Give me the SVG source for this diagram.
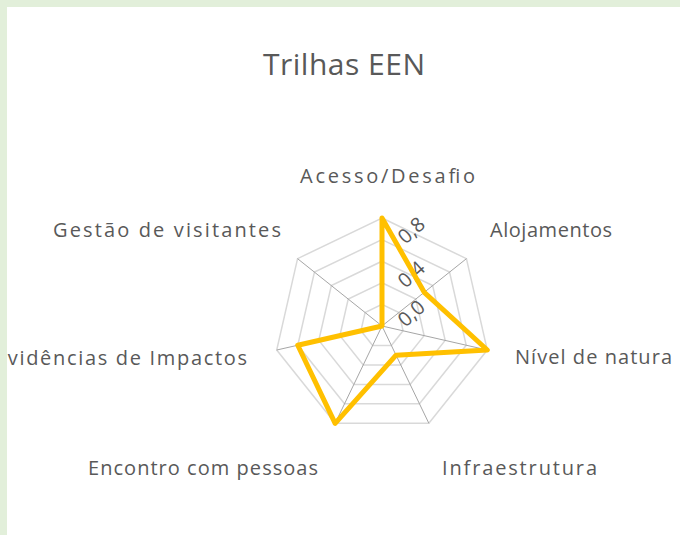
<svg xmlns="http://www.w3.org/2000/svg" width="680" height="535" viewBox="0 0 680 535">
  <style>
    .ring { fill: none; stroke: #d9d9d9; stroke-width: 1.5; }
    .spoke { stroke: #a6a6a6; stroke-width: 1; }
    .lbl { font-family: "Open Sans", "Liberation Sans", sans-serif; font-size: 20px; fill: #595959; }
    .tick { font-family: "Open Sans", "Liberation Sans", sans-serif; font-size: 20px; fill: #595959; }
    .title { font-family: "Open Sans", "Liberation Sans", sans-serif; font-size: 30px; fill: #595959; }
    .series { fill: none; stroke: #ffc000; stroke-width: 5; stroke-linejoin: round; }
  </style>
  <defs>
    <clipPath id="panel"><rect x="7" y="7" width="673" height="528"/></clipPath>
  </defs>
  <rect x="0" y="0" width="680" height="535" fill="#e2efda"/>
  <rect x="7" y="7" width="673" height="528" fill="#ffffff"/>

  <g id="title">
    <text class="title" x="344" y="75" text-anchor="middle" textLength="162" lengthAdjust="spacing">Trilhas EEN</text>
  </g>

  <g id="grid">
    <polygon class="ring" points="382,304.4 398.89,312.53 403.06,330.81 391.37,345.46 372.63,345.46 360.94,330.81 365.06,312.53"/>
    <polygon class="ring" points="382,282.8 415.78,299.07 424.12,335.61 400.74,364.92 363.26,364.92 339.88,335.61 348.22,299.07"/>
    <polygon class="ring" points="382,261.2 432.66,285.6 445.18,340.42 410.12,384.38 353.88,384.38 318.82,340.42 331.34,285.6"/>
    <polygon class="ring" points="382,239.6 449.55,272.13 466.23,345.23 419.49,403.84 344.51,403.84 297.77,345.23 314.45,272.13"/>
    <polygon class="ring" points="382,218 466.44,258.66 487.29,350.03 428.86,423.3 335.14,423.3 276.71,350.03 297.56,258.66"/>
    <line class="spoke" x1="382" y1="326" x2="382" y2="218"/>
    <line class="spoke" x1="382" y1="326" x2="466.44" y2="258.66"/>
    <line class="spoke" x1="382" y1="326" x2="487.29" y2="350.03"/>
    <line class="spoke" x1="382" y1="326" x2="428.86" y2="423.3"/>
    <line class="spoke" x1="382" y1="326" x2="335.14" y2="423.3"/>
    <line class="spoke" x1="382" y1="326" x2="276.71" y2="350.03"/>
    <line class="spoke" x1="382" y1="326" x2="297.56" y2="258.66"/>
  </g>

  <g id="ticks">
    <text class="tick" x="411" y="313" text-anchor="middle" dominant-baseline="central" transform="rotate(-42 411 313)">0,0</text>
    <text class="tick" x="411" y="274" text-anchor="middle" dominant-baseline="central" transform="rotate(-42 411 274)">0,4</text>
    <text class="tick" x="411" y="230" text-anchor="middle" dominant-baseline="central" transform="rotate(-42 411 230)">0,8</text>
  </g>

  <g id="series">
    <polygon class="series" points="382,218 424.22,292.33 487.29,350.03 396.06,355.19 335.14,423.3 297.77,345.23 382,326"/>
  </g>

  <g id="categories" clip-path="url(#panel)">
    <text class="lbl" x="300" y="183" textLength="175" lengthAdjust="spacing">Acesso/Desafio</text>
    <text class="lbl" x="490" y="236.5" textLength="122" lengthAdjust="spacing">Alojamentos</text>
    <text class="lbl" x="515" y="363.5" textLength="157" lengthAdjust="spacing">Nível de natura</text>
    <text class="lbl" x="442" y="475" textLength="155" lengthAdjust="spacing">Infraestrutura</text>
    <text class="lbl" x="88" y="475" textLength="230" lengthAdjust="spacing">Encontro com pessoas</text>
    <text class="lbl" x="-5" y="365" textLength="252" lengthAdjust="spacing">Evidências de Impactos</text>
    <text class="lbl" x="53" y="236.5" textLength="228" lengthAdjust="spacing">Gestão de visitantes</text>
  </g>
</svg>
